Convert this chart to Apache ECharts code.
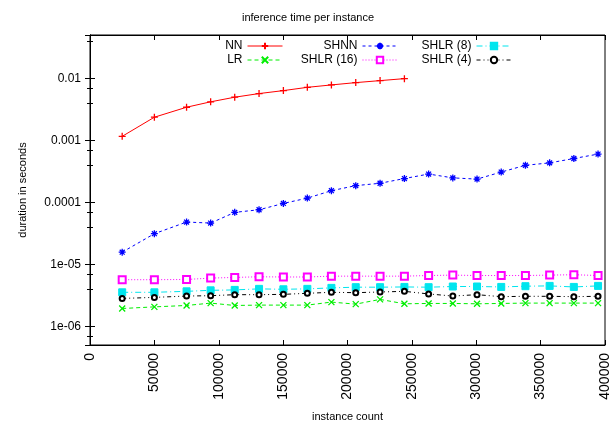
<!DOCTYPE html>
<html><head><meta charset="utf-8">
<script src="https://cdn.jsdelivr.net/npm/echarts@6/dist/echarts.min.js"></script>
<style>html,body{margin:0;padding:0;background:#fff}#c{width:616px;height:435px}</style>
</head><body><div id="c"></div>
<script>
const instanceCounts = [25000, 50000, 75000, 93700, 112400, 131300, 150200, 168800, 187500, 206400, 225300, 244200, 263000, 281800, 300600, 319400, 338200, 357000, 375800, 394600];
const nnTimes    = [0.00116, 0.00236, 0.00342, 0.00418, 0.00496, 0.00568, 0.00634, 0.00716, 0.00783, 0.00853, 0.00919, 0.00989];
const lrTimes    = [1.94e-6, 2.06e-6, 2.17e-6, 2.37e-6, 2.17e-6, 2.20e-6, 2.20e-6, 2.20e-6, 2.46e-6, 2.28e-6, 2.72e-6, 2.31e-6, 2.34e-6, 2.34e-6, 2.31e-6, 2.34e-6, 2.37e-6, 2.37e-6, 2.37e-6, 2.37e-6];
const shnnTimes  = [1.57e-5, 3.12e-5, 4.81e-5, 4.63e-5, 6.89e-5, 7.59e-5, 9.6e-5, 1.17e-4, 1.54e-4, 1.86e-4, 2.03e-4, 2.42e-4, 2.86e-4, 2.48e-4, 2.37e-4, 3.08e-4, 3.96e-4, 4.33e-4, 5.09e-4, 6.0e-4];
const shlr16Times = [5.65e-6, 5.65e-6, 5.7e-6, 6.0e-6, 6.15e-6, 6.3e-6, 6.25e-6, 6.25e-6, 6.45e-6, 6.45e-6, 6.45e-6, 6.45e-6, 6.6e-6, 6.7e-6, 6.6e-6, 6.6e-6, 6.6e-6, 6.7e-6, 6.8e-6, 6.6e-6];
const shlr8Times = [3.54e-6, 3.54e-6, 3.67e-6, 3.81e-6, 3.87e-6, 4.02e-6, 3.96e-6, 4.02e-6, 4.17e-6, 4.28e-6, 4.28e-6, 4.32e-6, 4.28e-6, 4.39e-6, 4.39e-6, 4.32e-6, 4.44e-6, 4.49e-6, 4.32e-6, 4.49e-6];
const shlr4Times = [2.82e-6, 2.93e-6, 3.08e-6, 3.12e-6, 3.24e-6, 3.24e-6, 3.28e-6, 3.41e-6, 3.54e-6, 3.49e-6, 3.58e-6, 3.67e-6, 3.33e-6, 3.08e-6, 3.24e-6, 3.01e-6, 3.05e-6, 3.05e-6, 3.01e-6, 3.05e-6];
const yTickValues = [1e-6, 1e-5, 1e-4, 1e-3, 1e-2];
const yTickLabels = ['1e-06', '1e-05', '0.0001', '0.001', '0.01'];
const xTickLabels = ['0', '50000', '100000', '150000', '200000', '250000', '300000', '350000', '400000'];

const FONT = 'Liberation Sans';
const pts = arr => arr.map((v, i) => [instanceCounts[i], v]);

const SYM_PLUS = 'path://M0,5L10,5M5,0L5,10';
const SYM_X = 'path://M0,0L10,10M10,0L0,10';
const SYM_STAR = 'path://M0,5L10,5M5,0L5,10M1.5,1.5L8.5,8.5M8.5,1.5L1.5,8.5';

function mk(name, data, color, symbol, dash, size, bw) {
  return {
    name, type: 'line', data: pts(data), xAxisIndex: 0, yAxisIndex: 0,
    symbol, symbolSize: size, showSymbol: true,
    lineStyle: { color, width: 1, type: dash },
    itemStyle: { color, borderColor: color, borderWidth: bw },
    emphasis: { disabled: true }, z: 2
  };
}

const series = [
  mk('NN', nnTimes, '#ff0000', SYM_PLUS, 'solid', 7, 1.3),
  mk('LR', lrTimes, '#00ee00', SYM_X, [4, 3], 6, 1.3),
  mk('SHNN', shnnTimes, '#0000ff', SYM_STAR, [3, 3], 7, 1.3),
  mk('SHLR (16)', shlr16Times, '#ff00ff', 'emptyRect', [1, 2], 7, 1.2),
  mk('SHLR (8)', shlr8Times, '#00e5ee', 'rect', [6, 3, 1, 3], 7, 1),
  mk('SHLR (4)', shlr4Times, '#000000', 'emptyCircle', [4, 3, 1, 3, 1, 3], 5, 1)
];

function leg(name, right, top) {
  return {
    data: [name], right, top, align: 'right', orient: 'vertical',
    itemWidth: 35, itemHeight: 8, padding: 0, selectedMode: false,
    lineStyle: { width: 1 },
    textStyle: { fontFamily: FONT, fontSize: 12, color: '#000' }
  };
}

const yLabel = v => {
  const i = yTickValues.findIndex(t => Math.abs(Math.log10(t) - Math.log10(v)) < 1e-6);
  return i >= 0 ? yTickLabels[i] : '';
};

const chart = echarts.init(document.getElementById('c'), null, { renderer: 'canvas' });
chart.setOption({
  animation: false,
  backgroundColor: '#fff',
  title: { text: 'inference time per instance', left: 'center', top: 7,
    textStyle: { fontFamily: FONT, fontSize: 11, fontWeight: 'normal', color: '#000' } },
  legend: [
    leg('NN', 333, 40), leg('LR', 333, 54),
    leg('SHNN', 218, 40), leg('SHLR (16)', 218, 54),
    leg('SHLR (8)', 104, 40), leg('SHLR (4)', 104, 54)
  ],
  grid: { left: 90, right: 11, top: 35, bottom: 90, show: true, borderColor: '#000', borderWidth: 1 },
  xAxis: [{
    type: 'value', min: 0, max: 400000, interval: 50000,
    name: 'instance count', nameLocation: 'middle', nameGap: 66,
    nameTextStyle: { fontFamily: FONT, fontSize: 11, color: '#000' },
    axisLine: { lineStyle: { color: '#000' } },
    axisTick: { inside: true, length: 5, lineStyle: { color: '#000' } },
    splitLine: { show: false },
    axisLabel: { rotate: 90, fontFamily: FONT, fontSize: 14, color: '#000', margin: 8,
      formatter: v => xTickLabels[Math.round(v / 50000)] }
  }, {
    type: 'value', min: 0, max: 400000, interval: 50000, position: 'top',
    axisLine: { lineStyle: { color: '#000' } },
    axisTick: { inside: true, length: 5, lineStyle: { color: '#000' } },
    axisLabel: { show: false }, splitLine: { show: false }
  }],
  yAxis: [{
    type: 'log', logBase: 10, min: 5e-7, max: 0.05,
    name: 'duration in seconds', nameLocation: 'middle', nameGap: 62, nameRotate: 90,
    nameTextStyle: { fontFamily: FONT, fontSize: 11, color: '#000' },
    axisLine: { lineStyle: { color: '#000' } },
    axisTick: { inside: true, length: 5, lineStyle: { color: '#000' } },
    minorTick: { show: true, splitNumber: 3, length: 3, lineStyle: { color: '#000' } },
    splitLine: { show: false },
    axisLabel: { fontFamily: FONT, fontSize: 12, color: '#000', margin: 9,
      showMinLabel: false, showMaxLabel: false, formatter: yLabel }
  }, {
    type: 'log', logBase: 10, min: 5e-7, max: 0.05, position: 'right',
    axisLine: { lineStyle: { color: '#000' } },
    axisTick: { inside: true, length: 5, lineStyle: { color: '#000' } },
    minorTick: { show: true, splitNumber: 3, length: 3, lineStyle: { color: '#000' } },
    axisLabel: { show: false }, splitLine: { show: false }
  }],
  series
});
</script></body></html>
